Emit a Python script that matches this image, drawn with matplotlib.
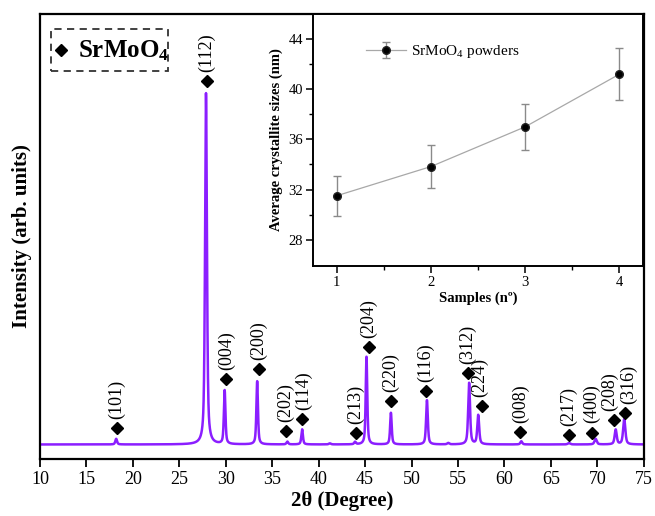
import numpy as np
import matplotlib
matplotlib.use("Agg")
import matplotlib.pyplot as plt
from matplotlib.patches import Rectangle

plt.rcParams['font.family'] = ['Liberation Serif', 'DejaVu Serif']
plt.rcParams['mathtext.fontset'] = 'custom'
plt.rcParams['mathtext.rm'] = 'Liberation Serif'
plt.rcParams['mathtext.bf'] = 'Liberation Serif:bold'
plt.rcParams['mathtext.it'] = 'Liberation Serif:italic'

# ---- XRD data (peaks) ----
peak_pos = [18.2, 27.87, 29.88, 33.38, 36.63, 38.22, 41.2, 43.92, 45.15, 47.78,
            51.66, 53.95, 56.2, 57.18, 61.82, 66.95, 69.82, 71.98, 72.9]
peak_height = [1.6, 100.0, 15.3, 18.0, 0.8, 4.3, 0.3, 0.7, 25.0, 9.0,
               12.6, 0.4, 17.5, 8.3, 0.9, 0.4, 1.6, 4.2, 7.2]
peak_fwhm = [0.22, 0.24, 0.2, 0.2, 0.22, 0.2, 0.25, 0.22, 0.2, 0.2,
             0.22, 0.25, 0.24, 0.24, 0.24, 0.3, 0.28, 0.26, 0.28]

# hkl labels and marker positions
hkl = ['(101)', '(112)', '(004)', '(200)', '(202)', '(114)', '(213)', '(204)',
       '(220)', '(116)', '(312)', '(224)', '(008)', '(217)', '(400)', '(208)', '(316)']
mark_x = [18.26, 27.98, 30.05, 33.54, 36.49, 38.2, 44.0, 45.38, 47.78, 51.55,
          56.04, 57.58, 61.7, 66.9, 69.4, 71.76, 72.94]
mark_y = [4.7, 103.4, 18.7, 21.4, 3.8, 7.3, 3.2, 27.6, 12.4, 15.3,
          20.2, 10.9, 3.6, 2.7, 3.4, 6.9, 9.0]
label_dx = [0, 0, 0, 0, 0, 1, 0, 0, 0, 0, 0, -2, 0, 0, 0, -3, 3]

# ---- inset data ----
samples = [1, 2, 3, 4]
cryst_size = [31.5, 33.83, 37.0, 41.2]
cryst_err = [1.6, 1.7, 1.86, 2.05]

# build the diffraction profile from the peak list (pseudo-Voigt)
tt = np.linspace(10, 75, 6500)
inten = np.zeros_like(tt)
for p, h, w in zip(peak_pos, peak_height, peak_fwhm):
    g = np.exp(-4 * np.log(2) * ((tt - p) / w) ** 2)
    l = 1.0 / (1.0 + 4 * ((tt - p) / w) ** 2)
    inten += h * (0.4 * g + 0.6 * l)

fig = plt.figure(figsize=(6.55, 5.16), dpi=100)
ax = fig.add_axes([0.0611, 0.1105, 0.9217, 0.8624])
ax.plot(tt, inten, color='#8B1EFF', lw=1.8)
ax.set_xlim(10, 75)
ax.set_ylim(-4.13, 122.5)
ax.set_xticks(np.arange(10, 76, 5))
ax.set_yticks([])
ax.tick_params(axis='x', direction='out', length=6, width=1.3, labelsize=13, pad=3)
for s in ax.spines.values():
    s.set_linewidth(1.6)
ax.set_xlabel('2θ (Degree)', fontsize=15, fontweight='bold', labelpad=2)
ax.set_ylabel('Intensity (arb. units)', fontsize=15, fontweight='bold', labelpad=6)

ax.plot(mark_x, mark_y, 'D', color='black', ms=6.5, ls='none')
for x, y, t, dx in zip(mark_x, mark_y, hkl, label_dx):
    ax.annotate(t, (x, y), xytext=(dx, 6.5), textcoords='offset points',
                rotation=90, ha='center', va='bottom', fontsize=13)

# legend box
ax.add_patch(Rectangle((0.0177, 0.872), 0.194, 0.094, transform=ax.transAxes,
                       fill=False, ls=(0, (4, 3)), lw=1.3, ec='#333333'))
ax.plot([0.035], [0.919], 'D', color='black', ms=6.5, transform=ax.transAxes)
ax.text(0.063, 0.917, r'SrMoO$_\mathbf{4}$', transform=ax.transAxes,
        fontsize=18, fontweight='bold', va='center', ha='left')

# ---- inset ----
axi = fig.add_axes([0.4779, 0.4845, 0.5038, 0.4884])
axi.errorbar(samples, cryst_size, yerr=cryst_err, color='#a8a8a8', lw=0.9,
             ecolor='#8a8a8a', elinewidth=1.0, capsize=3, capthick=1.0,
             marker='o', ms=5.5, mfc='black', mec='#222222',
             label=r'SrMoO$_4$ powders')
axi.plot(samples, cryst_size, 'o', ms=1.8, color='#bbbbbb', ls='none')
axi.set_xlim(0.75, 4.25)
axi.set_ylim(25.9, 46.0)
axi.set_xticks([1, 2, 3, 4])
axi.set_xticks([1.5, 2.5, 3.5], minor=True)
axi.set_yticks([28, 32, 36, 40, 44])
axi.set_yticks([30, 34, 38, 42], minor=True)
axi.tick_params(which='major', direction='out', length=5, width=1.1, labelsize=10.5, pad=2)
axi.tick_params(which='minor', direction='out', length=3, width=1.0)
for s in axi.spines.values():
    s.set_linewidth(1.4)
axi.set_xlabel('Samples (nº)', fontsize=10.5, fontweight='bold', labelpad=2)
axi.set_ylabel('Average crystallite sizes (nm)', fontsize=10.5, fontweight='bold', labelpad=4)
leg = axi.legend(loc='center left', frameon=False, fontsize=11, handlelength=2.6,
                 bbox_to_anchor=(0.12, 0.85), handletextpad=0.3)

fig.savefig('out.png', dpi=100)
